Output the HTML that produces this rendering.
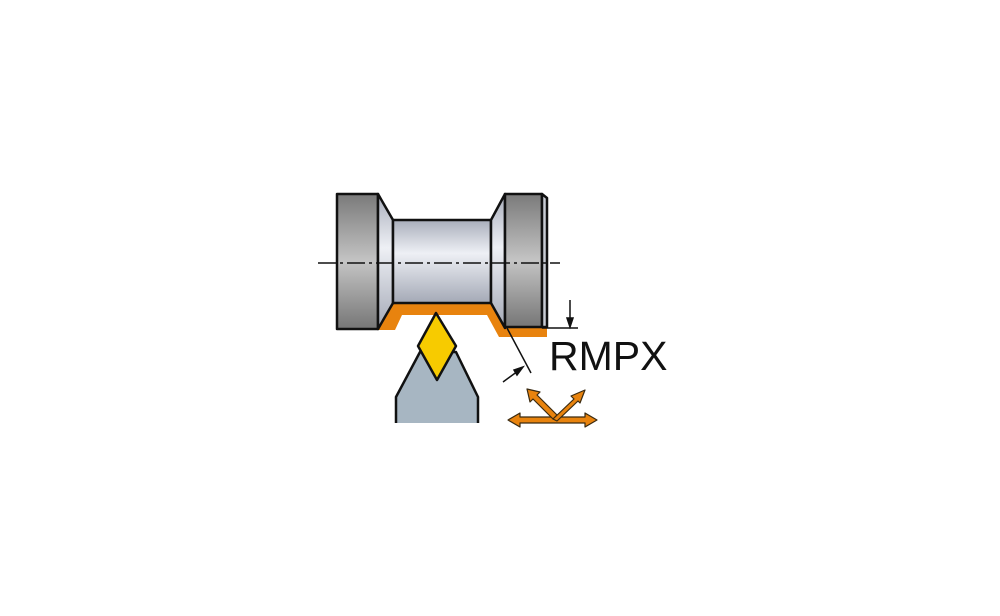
<!DOCTYPE html>
<html><head><style>body{margin:0;background:#fff}</style></head><body>
<svg width="1000" height="611" viewBox="0 0 1000 611" xmlns="http://www.w3.org/2000/svg">
<defs>
<linearGradient id="g1" x1="0" y1="0" x2="0" y2="1">
<stop offset="0" stop-color="#7a7a7a"/><stop offset="0.5" stop-color="#c4c4c4"/><stop offset="1" stop-color="#767676"/></linearGradient>
<linearGradient id="g2" x1="0" y1="0" x2="0" y2="1">
<stop offset="0" stop-color="#a9aebb"/><stop offset="0.4" stop-color="#eef0f5"/><stop offset="1" stop-color="#a4a9b6"/></linearGradient>
</defs>
<g stroke="#111" stroke-width="2.5" stroke-linejoin="round">
<path d="M378,330 L393,303 L490,303 L507,328 L547,328 L547,337 L499,337 L487,315 L402,315 L395,330 Z" fill="#e8830e" stroke="none"/>
<rect x="337" y="194" width="41" height="135" fill="url(#g1)"/>
<path d="M378,194 L393,220 L393,303 L378,329 Z" fill="url(#g2)"/>
<rect x="393" y="220" width="98" height="83" fill="url(#g2)"/>
<path d="M491,220 L505,194 L505,328 L491,303 Z" fill="url(#g2)"/>
<rect x="505" y="194" width="37" height="133" fill="url(#g1)"/>
<path d="M542,194 L547,198 L547,327 L542,327 Z" fill="#c8ccd4"/>
<path d="M396,423 L396,397 L420,352 L456,352 L478,397 L478,423" fill="#a7b6c2"/>
<path d="M436,313 L456,346 L437,380 L418,346 Z" fill="#f7cb00"/>
</g>
<line x1="318" y1="263" x2="560" y2="263" stroke="#111" stroke-width="1.5" stroke-dasharray="18,4,3,4"/>
<g stroke="#111" stroke-width="1.5" fill="#111">
<line x1="507" y1="328" x2="531" y2="373"/>
<line x1="503" y1="382" x2="518" y2="371"/>
<path d="M523,367 L514,370 L517,375 Z"/>
<line x1="542" y1="328" x2="578" y2="328"/>
<line x1="570" y1="300" x2="570" y2="320"/>
<path d="M570,327 L567,318 L573,318 Z"/>
</g>
<text x="549" y="370" font-family="Liberation Sans, sans-serif" font-size="41" fill="#111">RMPX</text>
<g fill="#e8830e" stroke="#3a2a10" stroke-width="1.2" stroke-linejoin="round">
<path d="M508,420 L520,413 L520,417 L585,417 L585,413 L597,420 L585,427 L585,423 L520,423 L520,427 Z"/>
<path d="M553,419 L533,399 L530,402 L527,389 L540,392 L537,395 L557,415 Z"/>
<path d="M553,419 L574,399 L571,396 L585,390 L580,403 L578,401 L557,421 Z"/>
</g>
</svg>
</body></html>
